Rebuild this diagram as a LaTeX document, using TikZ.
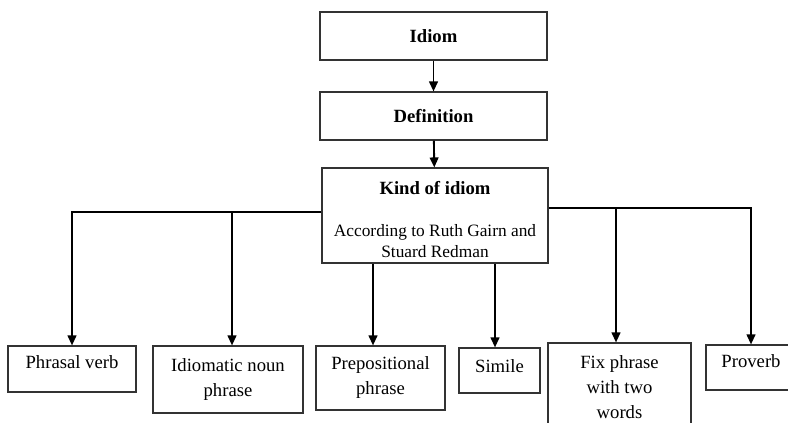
\documentclass[tikz,border=0pt]{standalone}
\usepackage{fontspec}
\setmainfont{Liberation Serif}
\usetikzlibrary{arrows.meta}

\tikzset{
  box/.style={draw=black!80, line width=0.8pt, rectangle, align=center, inner sep=0pt,
              font=\fontsize{14}{18.75}\selectfont},
  arr/.style={-{Triangle[length=7.5pt,width=6.5pt]}, line width=1.4pt},
  branch/.style={line width=1.4pt}
}

\begin{document}
\begin{tikzpicture}[x=0.75pt,y=-0.75pt]
    \useasboundingbox (0,0) rectangle (788,423);

    % Top boxes:
    \node [box, minimum width=227*0.75pt, minimum height=48*0.75pt] (idiom) at (433.5,36) {\textbf{Idiom}};
    \node [box, minimum width=227*0.75pt, minimum height=48*0.75pt] (def) at (433.5,116) {\textbf{Definition}};
    \node [box, minimum width=226*0.75pt, minimum height=95*0.75pt, font=\fontsize{13}{15.75}\selectfont] (kind) at (435,215.5)
        {\rule{0pt}{16pt}{\fontsize{14}{16}\selectfont\textbf{Kind of idiom}}\\[15.5pt]According to Ruth Gairn and\\Stuard Redman};

    % Kinds:
    \node [box, minimum width=128*0.75pt, minimum height=46*0.75pt, text depth=10.5pt] (phrasal) at (72,369) {Phrasal verb};
    \node [box, minimum width=150*0.75pt, minimum height=67*0.75pt] (noun) at (228,379.5) {Idiomatic noun\\phrase};
    \node [box, minimum width=129*0.75pt, minimum height=64*0.75pt] (prep) at (380.5,378) {Prepositional\\phrase};
    \node [box, minimum width=81*0.75pt, minimum height=45*0.75pt, text depth=6pt] (simile) at (499.5,370.5) {Simile};
    \node [box, minimum width=143*0.75pt, minimum height=88*0.75pt] (fix) at (619.5,387) {Fix phrase\\with two\\words};
    \node [box, minimum width=90*0.75pt, minimum height=45*0.75pt, text depth=10pt] (proverb) at (751,367.5) {Proverb};

    % Joints of the branches:
    \coordinate (lj) at (0,212);
    \coordinate (rj) at (0,208);
    \coordinate (pj) at (373,0);
    \coordinate (sj) at (495,0);
    \coordinate (nj) at (232,0);
    \coordinate (fj) at (616,0);

    % Arrows:
    \draw [arr] (idiom) -- (def);
    \draw [arr] (def) -- (kind);
    \draw [arr] (kind.west |- lj) -| (phrasal.north);
    \draw [arr] (nj |- lj) -- (nj |- noun.north);
    \draw [arr] (pj |- kind.south) -- (pj |- prep.north);
    \draw [arr] (sj |- kind.south) -- (sj |- simile.north);
    \draw [arr] (kind.east |- rj) -| (proverb.north);
    \draw [arr] (fj |- rj) -- (fj |- fix.north);
\end{tikzpicture}
\end{document}
